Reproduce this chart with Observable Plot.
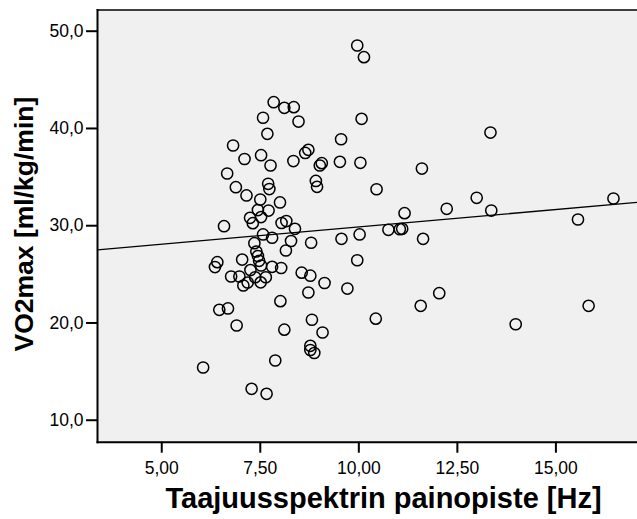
<!DOCTYPE html>
<html>
<head>
<meta charset="utf-8">
<script src="https://cdn.jsdelivr.net/npm/d3@7"></script>
<script src="https://cdn.jsdelivr.net/npm/@observablehq/plot@0.6"></script>
<style>
  html, body { margin: 0; padding: 0; background: #ffffff; }
  #chart { width: 637px; height: 519px; }
</style>
</head>
<body>
<div id="chart"></div>
<script>
// ---- data ----
const xTitle = "Taajuusspektrin painopiste [Hz]";
const yTitle = "VO2max [ml/kg/min]";
const xTicks = [5, 7.5, 10, 12.5, 15];
const yTicks = [10, 20, 30, 40, 50];
const xDomain = [3.37, 17.07];
const yDomain = [7.74, 52.18];
// fitted linear regression
const fitIntercept = 26.32;
const fitSlope = 0.3562;

const spectralCentroid = [
  9.96, 10.13, 7.84, 8.11, 8.35, 7.57, 8.47, 10.07, 7.68, 9.55,
  6.81, 8.72, 8.64, 7.52, 7.10, 8.34, 9.52, 10.04, 7.76, 9.06,
  9.01, 6.66, 8.91, 8.94, 7.70, 7.73, 10.45, 6.88, 7.15, 7.50,
  8.00, 7.44, 7.71, 7.24, 7.31, 7.52, 8.04, 8.16, 6.58, 8.38,
  11.16, 10.75, 11.04, 11.10, 10.02, 9.56, 7.57, 7.80, 7.35, 8.28,
  8.79, 7.40, 7.44, 8.15, 7.47, 7.04, 6.41, 6.35, 7.52, 9.96,
  7.80, 8.03, 7.25, 6.76, 6.97, 7.37, 7.64, 7.18, 7.07, 7.51,
  8.55, 8.77, 9.13, 8.72, 9.71, 8.01, 6.46, 6.68, 6.90, 8.11,
  8.81, 9.08, 10.43, 8.77, 8.77, 8.87, 7.88, 6.05, 7.28, 7.66,
  13.34, 11.60, 12.99, 16.46, 12.23, 13.36, 15.56, 11.63, 12.04, 11.57,
  15.83, 13.98
];
const vo2max = [
  48.53, 47.33, 42.70, 42.12, 42.19, 41.10, 40.71, 40.99, 39.45, 38.89,
  38.25, 37.80, 37.48, 37.25, 36.86, 36.65, 36.57, 36.47, 36.19, 36.43,
  36.19, 35.37, 34.60, 34.00, 34.31, 33.77, 33.75, 33.96, 33.11, 32.69,
  32.39, 31.61, 31.56, 30.81, 30.26, 30.89, 30.28, 30.48, 29.95, 29.68,
  31.29, 29.58, 29.64, 29.68, 29.10, 28.65, 29.10, 28.76, 28.20, 28.43,
  28.25, 27.35, 26.88, 27.45, 26.39, 26.52, 26.25, 25.75, 25.91, 26.45,
  25.77, 25.65, 25.44, 24.78, 24.78, 24.70, 24.70, 24.16, 23.85, 24.18,
  25.17, 24.86, 24.11, 23.13, 23.54, 22.24, 21.35, 21.49, 19.74, 19.31,
  20.33, 19.02, 20.44, 17.65, 17.22, 16.91, 16.14, 15.42, 13.23, 12.71,
  39.58, 35.88, 32.87, 32.80, 31.74, 31.56, 30.64, 28.65, 23.06, 21.76,
  21.76, 19.87
];

// ---- build tables ----
const points = spectralCentroid.map((x, i) => ({x, y: vo2max[i]}));
const fitLine = xDomain.map(x => ({x, y: fitIntercept + fitSlope * x}));

const fmtX = d => d.toFixed(2).replace(".", ",");
const fmtY = d => d.toFixed(1).replace(".", ",");

const chart = Plot.plot({
  width: 637,
  height: 519,
  marginLeft: 97,
  marginRight: 0,
  marginTop: 9.5,
  marginBottom: 77.3,
  style: {fontFamily: "'Liberation Sans', Arial, sans-serif", fontSize: "17.5px", background: "#ffffff", color: "#000"},
  x: {domain: xDomain},
  y: {domain: yDomain},
  marks: [
    Plot.frame({fill: "#f0f0f0", stroke: "none"}),
    Plot.frame({anchor: "top", stroke: "#000", strokeWidth: 1.5}),
    Plot.frame({anchor: "left", stroke: "#000", strokeWidth: 2}),
    Plot.frame({anchor: "bottom", stroke: "#000", strokeWidth: 2}),
    Plot.line(fitLine, {x: "x", y: "y", stroke: "#000", strokeWidth: 1.3}),
    Plot.dot(points, {x: "x", y: "y", r: 5.6, stroke: "#000", strokeWidth: 1.5, fill: "none"}),
    Plot.axisX(xTicks, {tickFormat: fmtX, tickSize: 11, tickPadding: 8, strokeWidth: 2, label: null}),
    Plot.axisY(yTicks, {tickFormat: fmtY, tickSize: 11, tickPadding: 3, strokeWidth: 2, label: null}),
    Plot.text([xTitle], {frameAnchor: "bottom", text: d => d, textAnchor: "middle", lineAnchor: "top", dx: 16, dy: 45,
      fontSize: 29, fontWeight: "bold", fill: "#000"}),
    Plot.text([yTitle], {frameAnchor: "left", text: d => d, textAnchor: "middle", rotate: -90, dx: -73, dy: -2,
      fontSize: 26.5, fontWeight: "bold", fill: "#000"})
  ]
});
document.getElementById("chart").appendChild(chart);
</script>
</body>
</html>
